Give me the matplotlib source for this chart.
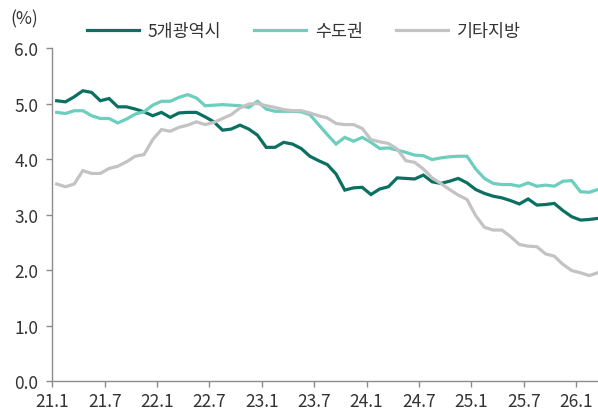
import matplotlib
matplotlib.use("Agg")
import matplotlib.pyplot as plt
import numpy as np

plt.rcParams['font.family'] = ['Noto Sans CJK KR', 'DejaVu Sans']

# monthly series, 21.1 .. 26.3 (%)
metro5 = [5.05, 5.03, 5.12, 5.23, 5.20, 5.05, 5.09, 4.94, 4.94, 4.90,
          4.85, 4.78, 4.84, 4.75, 4.83, 4.84, 4.84, 4.76, 4.67, 4.52,
          4.54, 4.61, 4.54, 4.43, 4.21, 4.21, 4.30, 4.27, 4.19, 4.05,
          3.97, 3.90, 3.73, 3.44, 3.48, 3.49, 3.36, 3.46, 3.50, 3.66,
          3.65, 3.64, 3.71, 3.59, 3.56, 3.60, 3.65, 3.57, 3.45, 3.38,
          3.33, 3.30, 3.25, 3.19, 3.28, 3.17, 3.18, 3.20, 3.07, 2.96,
          2.90, 2.91, 2.93]
capital = [4.84, 4.82, 4.87, 4.87, 4.78, 4.73, 4.73, 4.65, 4.72, 4.81,
           4.85, 4.97, 5.04, 5.04, 5.11, 5.16, 5.10, 4.96, 4.97, 4.98,
           4.97, 4.96, 4.93, 5.04, 4.90, 4.86, 4.86, 4.86, 4.85, 4.80,
           4.62, 4.44, 4.27, 4.39, 4.32, 4.39, 4.30, 4.19, 4.20, 4.16,
           4.12, 4.07, 4.06, 3.99, 4.02, 4.04, 4.05, 4.05, 3.82, 3.65,
           3.56, 3.54, 3.54, 3.51, 3.57, 3.51, 3.53, 3.51, 3.60, 3.61,
           3.41, 3.40, 3.45]
other = [3.55, 3.50, 3.55, 3.79, 3.74, 3.74, 3.83, 3.87, 3.95, 4.05,
         4.08, 4.35, 4.53, 4.50, 4.57, 4.61, 4.67, 4.62, 4.66, 4.73,
         4.80, 4.92, 4.99, 5.00, 4.96, 4.93, 4.89, 4.87, 4.87, 4.83,
         4.78, 4.74, 4.64, 4.62, 4.62, 4.55, 4.35, 4.31, 4.28, 4.18,
         3.97, 3.94, 3.82, 3.66, 3.56, 3.45, 3.35, 3.27, 2.98, 2.77,
         2.72, 2.72, 2.60, 2.46, 2.43, 2.42, 2.29, 2.25, 2.10, 1.99,
         1.95, 1.90, 1.95]

tick_labels = ['21.1', '21.7', '22.1', '22.7', '23.1', '23.7',
               '24.1', '24.7', '25.1', '25.7', '26.1']
names = ['5개광역시', '수도권', '기타지방']
colors = ['#0b7061', '#6ccebd', '#c3c3c3']

n = len(metro5)
x = np.arange(n) + 0.5

fig = plt.figure(figsize=(5.98, 4.14), dpi=100)
ax = fig.add_axes([0.0875, 0.0773, 0.9197, 0.8043])

for series, name, c in zip([metro5, capital, other], names, colors):
    ax.plot(x, series, color=c, lw=2.3, label=name, solid_joinstyle='miter')

ax.set_xlim(0, n)
ax.set_ylim(0, 6)
ax.set_xticks(np.arange(0, 61, 6))
ax.set_xticklabels(tick_labels)
ax.set_yticks(np.arange(0, 6.01, 1.0))
ax.set_yticklabels([f'{v:.1f}' for v in np.arange(0, 6.01, 1.0)])

for side in ['top', 'right']:
    ax.spines[side].set_visible(False)
for side in ['left', 'bottom']:
    ax.spines[side].set_color('#8c8c8c')
    ax.spines[side].set_linewidth(1.0)
ax.tick_params(axis='both', colors='#8c8c8c', length=4, width=1.0,
               labelcolor='#333333', labelsize=12.5)
ax.tick_params(axis='y', pad=6)
ax.tick_params(axis='x', pad=4)

fig.text(0.017, 0.952, '(%)', fontsize=12.5, color='#333333', va='center')
fig.legend(loc='center', bbox_to_anchor=(0.508, 0.922), ncol=3, frameon=False,
           handlelength=3.0, handletextpad=0.5, columnspacing=1.9,
           fontsize=12.5, labelcolor='#333333')

fig.savefig('out.png', dpi=100)
